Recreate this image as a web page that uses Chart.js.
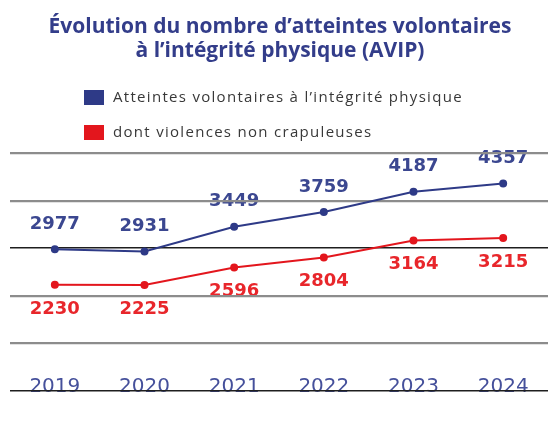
<!DOCTYPE html>
<html>
<head>
  <meta charset="utf-8">
  <title>Évolution du nombre d'atteintes volontaires à l'intégrité physique</title>
  <script src="https://cdn.jsdelivr.net/npm/chart.js"></script>
  <style>
    body {
      margin: 0;
      padding: 0;
      background-color: #fff;
      font-family: "Open Sans", Arial, sans-serif;
      overflow: hidden;
    }
    .chart-container {
      width: 548px;
      height: 446px;
    }
  </style>
</head>
<body>
  <div class="chart-container">
    <canvas id="avipChart"></canvas>
  </div>

  <script>
    // ----- Data -----
    const years = ["2019", "2020", "2021", "2022", "2023", "2024"];
    const avipValues = [2977, 2931, 3449, 3759, 4187, 4357];
    const nonCrapValues = [2230, 2225, 2596, 2804, 3164, 3215];
    const yTicks = [0, 1000, 2000, 3000, 4000, 5000];

    const titleLines = [
      "Évolution du nombre d\u2019atteintes volontaires",
      "à l\u2019intégrité physique (AVIP)"
    ];
    const seriesNames = [
      "Atteintes volontaires à l\u2019intégrité physique",
      "dont violences non crapuleuses"
    ];

    const BLUE = "#2e3a87";
    const RED = "#e3161d";

    // value labels + year labels, drawn before the grid so the lines pass over them
    const valueLabels = {
      id: "valueLabels",
      beforeDraw(chart) {
        const ctx = chart.ctx;
        ctx.save();
        ctx.font = "bold 18px 'DejaVu Sans'";
        ctx.textAlign = "center";
        ctx.textBaseline = "middle";
        chart.data.datasets.forEach((ds, i) => {
          const meta = chart.getDatasetMeta(i);
          ctx.fillStyle = ds.labelColor;
          meta.data.forEach((pt, j) => {
            const off = ds.labelAbove ? -25 : 24;
            ctx.fillText(String(ds.data[j]), pt.x, pt.y + off);
          });
        });

        // year labels sit on the zero line
        const xs = chart.scales.x;
        const y0 = chart.scales.y.getPixelForValue(0);
        ctx.font = "20px 'DejaVu Sans'";
        ctx.fillStyle = "#45509b";
        ctx.textBaseline = "alphabetic";
        years.forEach((yr, i) => {
          ctx.fillText(yr, xs.getPixelForValue(i), y0 + 1);
        });
        ctx.restore();
      }
    };

    // title and legend in the header
    const header = {
      id: "header",
      afterDraw(chart) {
        const ctx = chart.ctx;
        ctx.save();
        ctx.fillStyle = "#333d8a";
        ctx.font = "bold 21px 'Open Sans'";
        ctx.textAlign = "center";
        ctx.textBaseline = "alphabetic";
        ctx.fillText(titleLines[0], 280, 33);
        ctx.fillText(titleLines[1], 280, 57);

        ctx.textAlign = "left";
        ctx.textBaseline = "middle";
        ctx.font = "15px 'Open Sans'";
        ctx.letterSpacing = "1.3px";
        chart.data.datasets.forEach((ds, i) => {
          const y = 98 + i * 35;
          ctx.fillStyle = ds.borderColor;
          ctx.fillRect(84, y - 8, 20, 15);
          ctx.fillStyle = "#383838";
          ctx.fillText(ds.label, 113, y);
        });
        ctx.restore();
      }
    };

    const ctx = document.getElementById("avipChart").getContext("2d");
    new Chart(ctx, {
      type: "line",
      data: {
        labels: years,
        datasets: [
          {
            label: seriesNames[0],
            data: avipValues,
            borderColor: BLUE,
            backgroundColor: BLUE,
            labelColor: "#3b4790",
            labelAbove: true,
            borderWidth: 2,
            pointRadius: 3,
            tension: 0
          },
          {
            label: seriesNames[1],
            data: nonCrapValues,
            borderColor: RED,
            backgroundColor: RED,
            labelColor: "#e8262b",
            labelAbove: false,
            borderWidth: 2,
            pointRadius: 3,
            tension: 0
          }
        ]
      },
      options: {
        responsive: true,
        maintainAspectRatio: false,
        animation: false,
        layout: {
          autoPadding: false,
          padding: { top: 153, left: 10, right: 0, bottom: 55 }
        },
        scales: {
          x: {
            display: false,
            offset: true
          },
          y: {
            min: 0,
            max: 5000,
            afterBuildTicks: (scale) => {
              scale.ticks = yTicks.map((v) => ({ value: v }));
            },
            ticks: { display: false },
            border: { display: false },
            grid: {
              drawTicks: false,
              color: (c) => (c.tick && (c.tick.value === 0 || c.tick.value === 3000)) ? "#1e1e1e" : "#8c8c8c",
              lineWidth: (c) => (c.tick && (c.tick.value === 0 || c.tick.value === 3000)) ? 1.5 : 2.2
            }
          }
        },
        plugins: {
          legend: { display: false },
          tooltip: { enabled: false }
        }
      },
      plugins: [valueLabels, header]
    });
  </script>
</body>
</html>
